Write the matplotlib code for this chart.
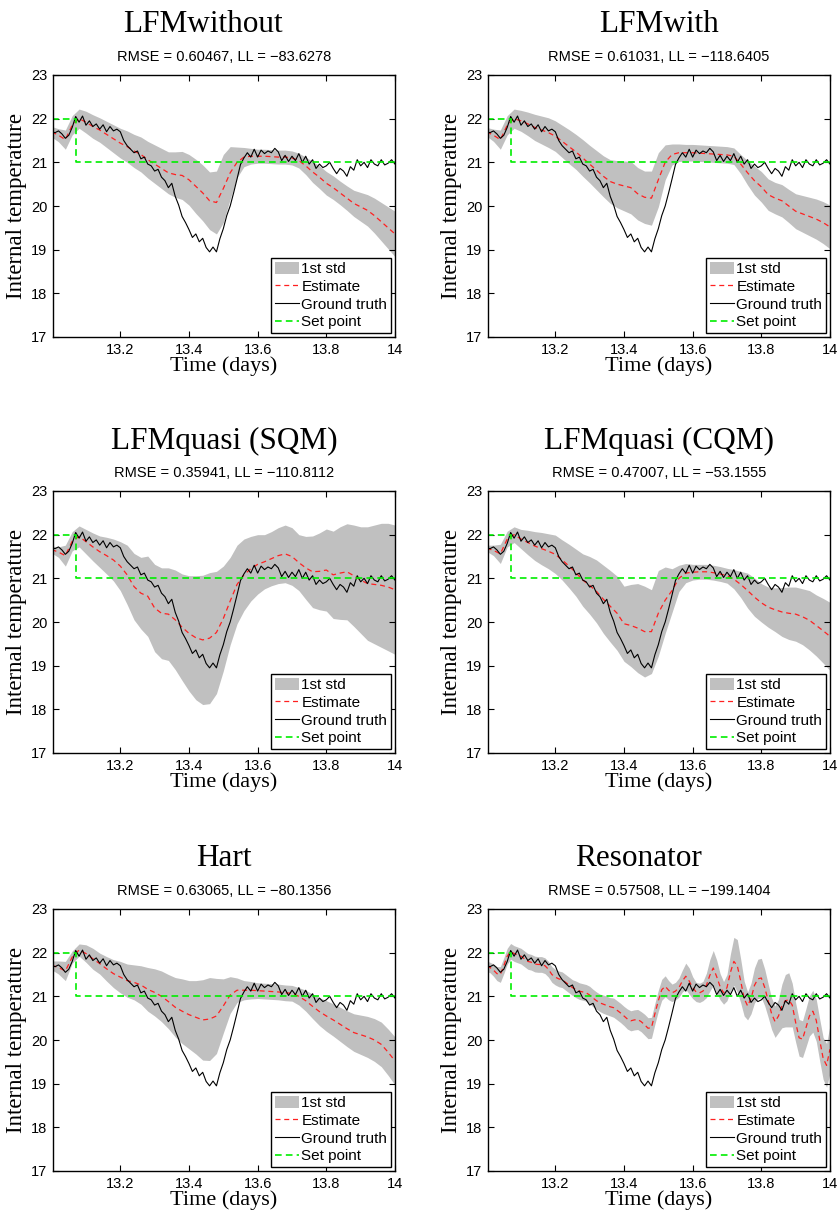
import numpy as np
import matplotlib
matplotlib.use("Agg")
import matplotlib.pyplot as plt

# time axis (days)
t_truth = np.round(np.arange(13.00, 14.0001, 0.01), 2)
t_est = np.round(np.arange(13.00, 14.0001, 0.02), 2)
t_res = t_truth

# measured internal temperature (same in every panel)
ground_truth = [21.70, 21.68, 21.72, 21.65, 21.55, 21.62, 21.80, 22.05, 21.92, 22.06,
                21.85, 21.95, 21.82, 21.88, 21.76, 21.86, 21.70, 21.82, 21.72, 21.76,
                21.70, 21.50, 21.38, 21.30, 21.22, 21.26, 21.08, 21.12, 20.96, 20.92,
                20.80, 20.84, 20.66, 20.58, 20.42, 20.52, 20.22, 20.02, 19.76, 19.62,
                19.46, 19.28, 19.36, 19.18, 19.26, 19.05, 18.95, 19.06, 18.95, 19.25,
                19.48, 19.78, 20.00, 20.30, 20.62, 20.95, 21.10, 21.22, 21.12, 21.30,
                21.12, 21.28, 21.20, 21.26, 21.22, 21.32, 21.24, 21.04, 21.16, 21.02,
                21.14, 21.04, 21.20, 21.00, 21.14, 20.96, 21.06, 20.86, 20.96, 20.88,
                20.92, 21.00, 20.86, 20.74, 20.86, 20.80, 20.68, 20.90, 20.82, 21.06,
                20.92, 21.00, 20.88, 21.06, 20.96, 20.92, 21.06, 20.94, 20.98, 21.06,
                20.96]

# set point steps
setpoint_times = [13.00, 13.07, 14.00]
setpoint_values = [22, 21, 21]

titles = ["LFMwithout", "LFMwith", "LFMquasi (SQM)", "LFMquasi (CQM)", "Hart", "Resonator"]
title_shift = [-21, 0, 0, 0, 0, -20]  # px, some titles sit left of centre
rmse = ["0.60467", "0.61031", "0.35941", "0.47007", "0.63065", "0.57508"]
loglik = ["\u221283.6278", "\u2212118.6405", "\u2212110.8112", "\u221253.1555", "\u221280.1356", "\u2212199.1404"]

# estimates and 1 std half widths, read at 0.02 day steps
est_without = [21.70, 21.62, 21.52, 21.85, 22.00, 21.92, 21.82, 21.74, 21.64, 21.54,
               21.44, 21.36, 21.26, 21.18, 21.06, 20.96, 20.86, 20.76, 20.72, 20.70,
               20.60, 20.45, 20.30, 20.12, 20.08, 20.40, 20.76, 21.00, 21.12, 21.14,
               21.14, 21.14, 21.13, 21.12, 21.12, 21.10, 21.04, 20.92, 20.78, 20.66,
               20.52, 20.42, 20.30, 20.18, 20.06, 19.98, 19.90, 19.78, 19.64, 19.50,
               19.36]
std_without = [0.12, 0.15, 0.22, 0.22, 0.22, 0.25, 0.27, 0.28, 0.30, 0.32,
               0.34, 0.36, 0.38, 0.40, 0.42, 0.44, 0.46, 0.48, 0.52, 0.55,
               0.58, 0.62, 0.64, 0.66, 0.72, 0.78, 0.60, 0.35, 0.22, 0.18,
               0.16, 0.16, 0.16, 0.16, 0.16, 0.16, 0.17, 0.20, 0.24, 0.26,
               0.27, 0.27, 0.27, 0.28, 0.30, 0.33, 0.36, 0.40, 0.44, 0.48,
               0.52]

est_with = [21.70, 21.62, 21.52, 21.85, 22.00, 21.95, 21.88, 21.80, 21.74, 21.68,
            21.60, 21.48, 21.36, 21.24, 21.10, 20.96, 20.82, 20.68, 20.56, 20.50,
            20.46, 20.42, 20.28, 20.20, 20.18, 20.60, 21.00, 21.18, 21.22, 21.22,
            21.22, 21.21, 21.20, 21.19, 21.18, 21.17, 21.14, 20.96, 20.76, 20.58,
            20.44, 20.26, 20.18, 20.12, 20.00, 19.88, 19.82, 19.76, 19.70, 19.62,
            19.52]
std_with = [0.10, 0.14, 0.22, 0.22, 0.22, 0.24, 0.27, 0.30, 0.32, 0.34,
            0.35, 0.37, 0.39, 0.40, 0.42, 0.43, 0.45, 0.47, 0.50, 0.54,
            0.57, 0.60, 0.60, 0.60, 0.62, 0.62, 0.40, 0.24, 0.20, 0.19,
            0.19, 0.19, 0.19, 0.19, 0.19, 0.19, 0.19, 0.22, 0.28, 0.33,
            0.35, 0.36, 0.36, 0.37, 0.38, 0.40, 0.42, 0.44, 0.46, 0.48,
            0.50]

est_sqm = [21.66, 21.60, 21.52, 21.85, 21.96, 21.84, 21.72, 21.61, 21.52, 21.42,
           21.28, 21.08, 20.81, 20.66, 20.59, 20.32, 20.20, 20.18, 20.05, 19.88,
           19.74, 19.64, 19.59, 19.63, 19.76, 20.08, 20.48, 20.86, 21.08, 21.22,
           21.32, 21.38, 21.45, 21.52, 21.56, 21.50, 21.36, 21.24, 21.15, 21.16,
           21.19, 21.08, 21.12, 21.15, 21.06, 20.96, 20.88, 20.86, 20.84, 20.80,
           20.74]
std_sqm = [0.08, 0.12, 0.24, 0.22, 0.24, 0.28, 0.32, 0.36, 0.42, 0.48,
           0.56, 0.68, 0.76, 0.82, 0.92, 1.00, 1.04, 1.06, 1.14, 1.22,
           1.32, 1.42, 1.48, 1.50, 1.40, 1.20, 1.00, 0.90, 0.82, 0.74,
           0.68, 0.62, 0.62, 0.64, 0.66, 0.66, 0.64, 0.72, 0.82, 0.88,
           0.94, 1.00, 1.06, 1.10, 1.16, 1.22, 1.30, 1.36, 1.42, 1.46,
           1.48]

est_cqm = [21.69, 21.64, 21.56, 21.90, 22.00, 21.90, 21.82, 21.74, 21.68, 21.62,
           21.55, 21.42, 21.28, 21.13, 20.96, 20.84, 20.70, 20.52, 20.36, 20.20,
           19.96, 19.92, 19.86, 19.78, 19.78, 20.20, 20.50, 20.72, 21.00, 21.12,
           21.14, 21.15, 21.15, 21.13, 21.10, 21.06, 20.98, 20.86, 20.72, 20.57,
           20.44, 20.34, 20.28, 20.23, 20.20, 20.18, 20.12, 20.04, 19.92, 19.80,
           19.67]
std_cqm = [0.07, 0.12, 0.22, 0.18, 0.18, 0.22, 0.28, 0.33, 0.37, 0.40,
           0.44, 0.46, 0.50, 0.54, 0.60, 0.66, 0.72, 0.78, 0.82, 0.85,
           0.86, 0.94, 1.02, 1.04, 0.96, 0.98, 0.76, 0.50, 0.30, 0.22,
           0.18, 0.17, 0.17, 0.17, 0.17, 0.17, 0.22, 0.30, 0.40, 0.44,
           0.44, 0.46, 0.50, 0.56, 0.60, 0.62, 0.64, 0.68, 0.70, 0.74,
           0.78]

est_hart = [21.71, 21.66, 21.58, 21.90, 22.06, 21.98, 21.86, 21.75, 21.63, 21.52,
            21.44, 21.36, 21.32, 21.26, 21.16, 21.09, 21.00, 20.88, 20.75, 20.66,
            20.58, 20.52, 20.46, 20.48, 20.55, 20.78, 21.03, 21.14, 21.14, 21.14,
            21.13, 21.12, 21.11, 21.10, 21.08, 21.07, 21.00, 20.90, 20.77, 20.65,
            20.55, 20.46, 20.36, 20.26, 20.17, 20.12, 20.07, 20.00, 19.90, 19.72,
            19.52]
std_hart = [0.10, 0.15, 0.22, 0.14, 0.14, 0.20, 0.24, 0.24, 0.28, 0.32,
            0.36, 0.38, 0.40, 0.44, 0.50, 0.54, 0.58, 0.62, 0.68, 0.74,
            0.78, 0.84, 0.92, 0.95, 0.86, 0.62, 0.42, 0.28, 0.22, 0.20,
            0.18, 0.18, 0.18, 0.18, 0.18, 0.18, 0.20, 0.24, 0.28, 0.32,
            0.35, 0.37, 0.39, 0.41, 0.43, 0.45, 0.47, 0.49, 0.51, 0.53,
            0.55]

# resonator oscillates, read at 0.01 day steps
est_res = [21.69, 21.66, 21.60, 21.52, 21.50, 21.70, 21.92, 22.03, 21.98, 21.95,
           21.92, 21.86, 21.80, 21.78, 21.74, 21.73, 21.73, 21.70, 21.62, 21.50,
           21.44, 21.40, 21.38, 21.32, 21.26, 21.20, 21.16, 21.12, 21.10, 21.08,
           21.03, 20.96, 20.90, 20.85, 20.82, 20.79, 20.76, 20.74, 20.68, 20.62,
           20.55, 20.48, 20.44, 20.46, 20.47, 20.42, 20.35, 20.27, 20.28, 20.60,
           20.90, 21.15, 21.23, 21.14, 21.08, 21.12, 21.20, 21.35, 21.46, 21.35,
           21.20, 21.10, 21.08, 21.12, 21.25, 21.48, 21.65, 21.45, 21.22, 21.08,
           21.20, 21.55, 21.80, 21.70, 21.35, 20.95, 20.78, 20.95, 21.25, 21.40,
           21.42, 21.20, 20.90, 20.60, 20.42, 20.55, 20.78, 20.90, 20.92, 20.80,
           20.40, 20.05, 20.02, 20.28, 20.55, 20.66, 20.45, 20.00, 19.58, 19.42,
           19.79]
std_res = [0.12, 0.12, 0.14, 0.16, 0.18, 0.18, 0.18, 0.18, 0.18, 0.18,
           0.18, 0.18, 0.18, 0.18, 0.18, 0.18, 0.18, 0.18, 0.18, 0.18,
           0.18, 0.18, 0.18, 0.18, 0.18, 0.18, 0.19, 0.19, 0.19, 0.19,
           0.20, 0.20, 0.20, 0.20, 0.21, 0.21, 0.21, 0.22, 0.22, 0.22,
           0.22, 0.23, 0.23, 0.23, 0.23, 0.23, 0.24, 0.24, 0.24, 0.24,
           0.24, 0.24, 0.24, 0.22, 0.20, 0.20, 0.22, 0.25, 0.30, 0.30,
           0.25, 0.22, 0.22, 0.22, 0.28, 0.36, 0.40, 0.38, 0.30, 0.26,
           0.30, 0.42, 0.55, 0.60, 0.50, 0.40, 0.32, 0.35, 0.40, 0.45,
           0.45, 0.42, 0.38, 0.36, 0.36, 0.38, 0.50, 0.60, 0.62, 0.50,
           0.45, 0.42, 0.42, 0.44, 0.46, 0.48, 0.48, 0.48, 0.48, 0.50,
           0.55]

panels = [(t_est, est_without, std_without), (t_est, est_with, std_with),
          (t_est, est_sqm, std_sqm), (t_est, est_cqm, std_cqm),
          (t_est, est_hart, std_hart), (t_res, est_res, std_res)]

serif = "Liberation Serif"
sans = "Liberation Sans"
plt.rcParams["font.family"] = sans

fig = plt.figure(figsize=(8.4, 12.13), dpi=100)
W, H = 840.0, 1213.0
lefts = [53, 488]
tops = [75, 491, 909]
aw, ah = 342, 262

for k in range(6):
    row, col = k // 2, k % 2
    ax = fig.add_axes([lefts[col] / W, 1 - (tops[row] + ah) / H, aw / W, ah / H])
    tt, est, sd = panels[k]
    est = np.array(est)
    sd = np.array(sd)

    ax.fill_between(tt, est - sd, est + sd, color="#c0c0c0", linewidth=0, label="1st std")
    ax.plot(tt, est, color="#ff2020", linestyle=(0, (4, 3)), linewidth=0.9, label="Estimate")
    ax.plot(t_truth, ground_truth, color="black", linewidth=0.8, label="Ground truth")
    ax.step(setpoint_times, setpoint_values, where="post", color="#00ee00",
            linestyle=(0, (4, 2.5)), linewidth=1.2, label="Set point")

    ax.set_xlim(13.004, 14.0)
    ax.set_ylim(17, 23)
    ax.set_xticks([13.2, 13.4, 13.6, 13.8, 14.0])
    ax.set_xticklabels(["13.2", "13.4", "13.6", "13.8", "14"])
    ax.set_yticks([17, 18, 19, 20, 21, 22, 23])
    ax.tick_params(direction="in", length=4, width=0.8, labelsize=10.5, pad=4,
                   top=True, right=True)
    for s in ax.spines.values():
        s.set_linewidth(1.0)

    ax.set_xlabel("Time (days)", family=serif, fontsize=16, labelpad=0)
    ax.set_ylabel("Internal temperature", family=serif, fontsize=16.5)
    ax.yaxis.set_label_coords(-26 / aw, 0.5)

    # title and error summary above each panel
    ax.text(0.5 + title_shift[k] / aw, 1 + 50 / ah, titles[k], family=serif, fontsize=22.5,
            ha="center", va="center", transform=ax.transAxes)
    ax.text(0.5, 1 + 18 / ah, "RMSE = %s, LL = %s" % (rmse[k], loglik[k]),
            fontsize=10.5, ha="center", va="center", transform=ax.transAxes)

    leg = ax.legend(loc="lower right", fontsize=11, fancybox=False, framealpha=1,
                    edgecolor="black", borderaxespad=0.25, borderpad=0.25,
                    labelspacing=0.2, handlelength=1.6, handleheight=0.9,
                    handletextpad=0.15)
    leg.get_frame().set_linewidth(1.0)

fig.savefig("out.png", dpi=100)
